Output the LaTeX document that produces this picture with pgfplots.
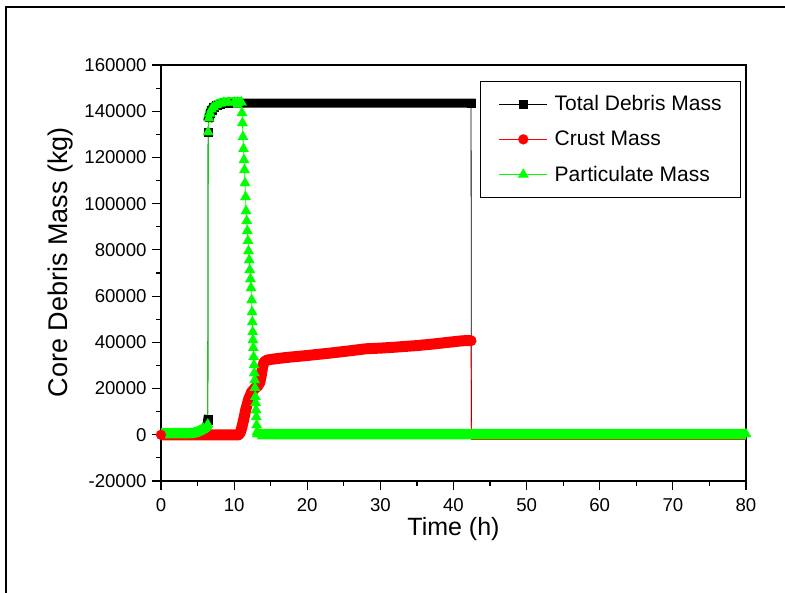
\documentclass[border=0pt]{standalone}
\usepackage{fontspec}
\setmainfont{Liberation Sans}
\usepackage{pgfplots}
\pgfplotsset{compat=1.18}
\definecolor{cgreen}{RGB}{0,255,0}
\definecolor{cred}{RGB}{255,0,0}
\begin{document}
\begin{tikzpicture}
\draw[line width=2bp, black] (5.5bp,0bp) -- (5.5bp,585.5bp) -- (785bp,585.5bp);
\begin{axis}[
  at={(161bp,112bp)}, anchor=south west,
  scale only axis, width=585bp, height=416bp,
  xmin=0, xmax=80, ymin=-20000, ymax=160000,
  xtick={0,10,...,80}, ytick={-20000,0,20000,40000,60000,80000,100000,120000,140000,160000},
  minor x tick num=1, minor y tick num=1,
  tick pos=left, tick align=outside,
  major tick length=9bp, minor tick length=5bp,
  tick style={black, line width=1.2bp},
  axis line style={line width=1.2bp},
  scaled y ticks=false,
  /pgf/number format/fixed,
  /pgf/number format/assume math mode=true,
  /pgf/number format/set thousands separator={},
  tick label style={font=\fontsize{18.6bp}{20bp}\selectfont},
  xticklabel style={yshift=-5bp},
  yticklabel style={xshift=-2bp},
  xlabel={Time (h)}, ylabel={Core Debris Mass (kg)},
  every axis x label/.style={at={(rel axis cs:0.5,-0.1315)}, anchor=base, font=\fontsize{25bp}{28bp}\selectfont},
  every axis y label/.style={at={(rel axis cs:-0.16,0.526)}, anchor=base, rotate=90, font=\fontsize{27bp}{30bp}\selectfont},
  unbounded coords=jump,
  legend image code/.code={\draw[mark repeat=2,mark phase=2] plot coordinates {(0bp,0bp)(24bp,0bp)(48bp,0bp)};},
  legend style={at={(rel axis cs:1,1)}, anchor=north east, xshift=-5bp, yshift=-16bp, draw=black, line width=0.8bp, fill=white, inner xsep=19bp, inner ysep=5bp, row sep=0bp, column sep=7bp, font=\fontsize{21bp}{24bp}\selectfont, nodes={inner sep=0pt, minimum height=35.3bp}},
  legend cell align=left,
]
% ---------- Total debris mass ----------
\addplot[forget plot, black, line width=9.2bp, line join=round, line cap=rect, no markers] coordinates {
(0,700)(3,700)(4,750)(4.5,900)(5,1300)(5.5,2000)(6,2800)(6.3,4500)(6.4,6500)
(6.42,nan)
(6.55,137500)(6.7,139300)(6.9,140600)(7.2,141700)(7.6,142600)(8.1,143100)(8.6,143400)(9.2,143500)(42.4,143500)};
\addplot[black, line width=0.8bp, mark=square*, mark size=4.2bp, mark options={solid, fill=black, draw=black, line width=0.2bp}] coordinates {
(6.4,6500)
(6.45,131000)(6.55,137500)(6.7,139300)(6.9,140600)(7.2,141700)(7.6,142600)(8.1,143100)(8.6,143400)(9.2,143500)
(42.4,143500)};
\addlegendentry{Total Debris Mass}
\addplot[forget plot, black, line width=0.8bp, no markers] coordinates {(42.4,143500)(42.45,-2000)(80,-2000)};
% ---------- Crust mass ----------
\addplot[forget plot, cred, line width=11bp, line join=round, line cap=round, no markers] coordinates {
(0,0)(10.6,0)(10.8,700)(11.0,2500)(11.3,6500)(11.6,11000)(12.0,15500)(12.4,18500)(12.8,20000)(13.2,21000)
(13.5,22500)(13.7,25500)(13.9,29500)(14.1,31500)(14.5,32300)(15,32600)(17,33400)(20,34300)(23,35300)(26,36400)
(28,37200)(30,37500)(32,37900)(35,38600)(37,39200)(39,39900)(41,40600)(42,40800)(42.4,40700)};
\addplot[cred, line width=0.8bp, mark=*, mark size=5bp, mark options={solid, fill=cred, draw=cred, line width=0.2bp}] coordinates {
(0,0)(10.6,0)(10.8,700)(11.0,2500)(11.3,6500)(11.6,11000)(12.0,15500)(12.4,18500)(12.8,20000)(13.2,21000)
(13.5,22500)(13.7,25500)(13.9,29500)(14.1,31500)(14.5,32300)(15,32600)(42.4,40700)};
\addlegendentry{Crust Mass}
\addplot[forget plot, cred, line width=0.8bp, no markers] coordinates {(42.4,40700)(42.45,-2000)(80,-2000)};
% ---------- Particulate mass ----------
\addplot[forget plot, cgreen, line width=10.5bp, line join=round, line cap=butt, no markers] coordinates {
(-0.6,700)(3,700)(4,750)(4.5,900)(5,1300)(5.5,2000)(6,2800)(6.3,3600)(6.4,4500)
(6.42,nan)
(6.55,137000)(6.7,139000)(6.9,140800)(7.2,141800)(7.6,142700)(8.1,143300)(8.6,143700)(9.2,143800)(11.0,143800)
(12,nan)
(13.17,300)(80.6,300)};
\addplot[cgreen, line width=0.8bp, mark=triangle*, mark size=6bp, mark options={solid, fill=cgreen, draw=cgreen, line width=0.2bp}] coordinates {
(6.4,4500)
(6.45,131000)(6.55,137000)(6.7,139000)(6.9,140800)(7.2,141800)(7.6,142700)(8.1,143300)(8.6,143700)(9.2,143800)
(10,143800)(10.5,143800)
(11.00,143800)(11.07,139250)(11.14,134900)(11.21,128900)(11.28,123700)(11.35,118900)(11.42,114600)(11.49,108900)
(11.56,102900)(11.63,96800)(11.72,92500)(11.80,88200)(11.89,83900)(11.97,79500)(12.06,75600)(12.14,71300)
(12.23,67400)(12.31,63500)(12.40,58300)(12.45,53100)(12.49,48800)(12.54,44500)(12.58,41000)(12.63,37600)
(12.67,33700)(12.72,30200)(12.76,26700)(12.81,23700)(12.85,20300)(12.90,16400)(12.94,13800)(12.99,10700)
(13.03,7700)(13.08,4200)(13.12,1200)(13.17,300)(80,300)};
\addlegendentry{Particulate Mass}
\end{axis}
\pgfresetboundingbox
\path[use as bounding box] (0bp,0bp) rectangle (785bp,593bp);
\end{tikzpicture}
\end{document}
